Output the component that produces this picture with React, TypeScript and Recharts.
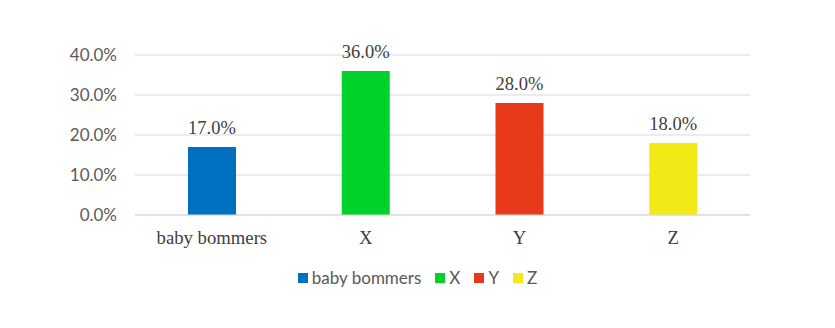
import React from "react";
import { BarChart, Bar, XAxis, YAxis, CartesianGrid, Cell, LabelList, Legend } from "recharts";

const categories = ["baby bommers", "X", "Y", "Z"];
const values = [0.17, 0.36, 0.28, 0.18];
const colors = ["#0070C0", "#00D22B", "#E8391A", "#F3E916"];
const yTicks = [0, 0.1, 0.2, 0.3, 0.4];

const data = categories.map((c, i) => ({ name: c, value: values[i] }));

const pct = (v: number) => (v * 100).toFixed(1) + "%";

const LegendContent = () => (
  <div style={{ display: "flex", justifyContent: "center", alignItems: "center", fontFamily: "Lato, sans-serif", fontSize: 17, color: "#595959", lineHeight: "20px" }}>
    {categories.map((c, i) => (
      <div key={c} style={{ display: "flex", alignItems: "center", marginRight: i < categories.length - 1 ? 14 : 0 }}>
        <span style={{ display: "inline-block", width: 10, height: 10, background: colors[i], marginRight: 4 }} />
        <span>{c}</span>
      </div>
    ))}
  </div>
);

export default function App() {
  return (
    <div style={{ position: "absolute", left: 0, top: 0, width: 835, height: 328, background: "#fff" }}>
      <BarChart width={835} height={328} data={data} margin={{ top: 55, right: 85, left: 0, bottom: 7 }}>
        <CartesianGrid vertical={false} stroke="#d9d9d9" strokeWidth={1} />
        <XAxis
          dataKey="name"
          axisLine={{ stroke: "#d9d9d9" }}
          tickLine={false}
          tickSize={0}
          tickMargin={16}
          height={40}
          tick={{ fontFamily: "'Liberation Serif', serif", fontSize: 18.7, fill: "#404040" }}
        />
        <YAxis
          width={135}
          domain={[0, 0.4]}
          ticks={yTicks}
          tickFormatter={pct}
          axisLine={false}
          tickLine={false}
          tickSize={0}
          tickMargin={18}
          tick={{ fontFamily: "Lato, sans-serif", fontSize: 17, fill: "#595959" }}
        />
        <Legend
          verticalAlign="bottom"
          height={66}
          content={<LegendContent />}
          wrapperStyle={{ top: 268, left: 0, width: 835 }}
        />
        <Bar dataKey="value" barSize={48} isAnimationActive={false}>
          {data.map((d, i) => (
            <Cell key={d.name} fill={colors[i]} />
          ))}
          <LabelList
            dataKey="value"
            position="top"
            offset={13}
            formatter={(v: any) => pct(Number(v))}
            style={{ fontFamily: "'Liberation Serif', serif", fontSize: 18.5, fill: "#404040" }}
          />
        </Bar>
      </BarChart>
    </div>
  );
}
